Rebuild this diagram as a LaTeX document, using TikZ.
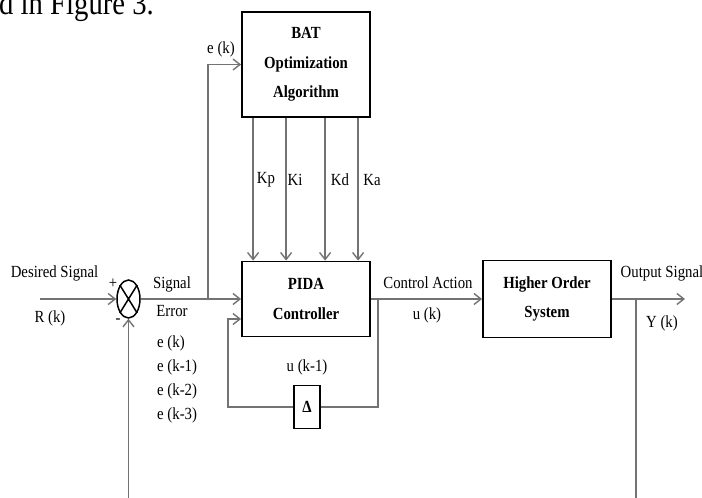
\documentclass[tikz,border=0pt]{standalone}
\usepackage{fontspec}
\setmainfont{Liberation Serif}[FakeStretch=0.87]
\usetikzlibrary{arrows.meta,shapes.geometric,calc}
\definecolor{wirecol}{gray}{0.45}
\tikzset{
  block/.style={draw=black, line width=1.8pt, minimum width=128pt, align=center,
    font=\bfseries\fontsize{17}{29.5}\selectfont},
  wire/.style={draw=wirecol, line width=1.4pt},
  lbl/.style={font=\fontsize{17}{20}\selectfont, inner sep=0pt},
}
\begin{document}
\begin{tikzpicture}[x=1pt, y=-1pt, >={Straight Barb[length=7pt,width=11pt]}]
	\useasboundingbox (0,0) rectangle (702,498);
	% Caption line cut off at the top
	\node[anchor=base west, inner sep=0pt, font=\fontsize{33}{36}\selectfont] (cap) at (-1,14) {d in Figure 3.};
	
	% Blocks
	\node[block, minimum height=105pt] (bat) at (306,64.5) {BAT\\Optimization\\Algorithm};
	\node[block, minimum height=75pt] (pida) at (306,299) {PIDA\\Controller};
	\node[block, minimum height=77pt] (hos) at (547,299) {Higher Order\\System};
	\node[draw=black, line width=1.8pt, minimum width=26pt, minimum height=43pt, inner sep=0pt,
		font=\bfseries\fontsize{17}{20}\selectfont] (dly) at (307,407) {Δ};
	\node[draw=black, line width=1.5pt, ellipse, minimum width=23pt, minimum height=38pt, inner sep=0pt] (sum) at (128.5,299) {};
	\draw[line width=1.5pt] (sum.north west) -- (sum.south east) (sum.north east) -- (sum.south west);
	
	% Key points
	\coordinate (rin) at (40,299);
	\coordinate (fb) at (128.5,498);
	\coordinate (ebr) at (208,299);
	\coordinate (ubr) at (378,299);
	\coordinate (ybr) at (636,299);
	\coordinate (yout) at (685,299);
	\coordinate (ybot) at (636,498);
	\coordinate (uleft) at (228,319);
	\coordinate (pin) at ($(pida.west)+(0,20)$);
	
	% Connectors
	\draw[wire,->] (rin) -- (sum.west);
	\draw[wire,->] (fb) -- (sum.south);
	\draw[wire,->] (sum.east) -- (pida.west);
	\draw[wire,->] (ebr) |- (bat.west);
	\draw[wire,->] (pida.east) -- (hos.west);
	\draw[wire,->] (hos.east) -- (yout);
	\draw[wire] (ybr) -- (ybot);
	\draw[wire] (ubr) |- (dly.east);
	\draw[wire,->] (dly.west) -| (uleft) -- (pin);
	
	% Gains from the optimizer
	\foreach \dx/\k/\lx in {12/Kp/266, 45/Ki/295, 84/Kd/340, 117/Ka/372} {
		\draw[wire,->] ([xshift=\dx pt]bat.south west) -- ([xshift=\dx pt]pida.north west);
		\node[lbl] (lbl\k) at (\lx,180) {\k};
	}
	
	% Labels
	\node[lbl] (eklbl) at (221,49) {e (k)};
	\node[lbl] (plus) at (113,284) {+};
	\node[lbl] (minus) at (118,321) {-};
	\node[lbl] (dsig) at (54.5,273) {Desired Signal};
	\node[lbl] (rk) at (50,318) {R (k)};
	\node[lbl, align=center, font=\fontsize{17}{28}\selectfont] (serr) at (172,297) {Signal\\Error};
	\node[lbl, align=left, anchor=west, font=\fontsize{17}{24}\selectfont] (elist) at (157,379) {e (k)\\e (k-1)\\e (k-2)\\e (k-3)};
	\node[lbl] (ca) at (428,283) {Control Action};
	\node[lbl] (uk) at (427,315) {u (k)};
	\node[lbl] (uk1) at (307,367) {u (k-1)};
	\node[lbl] (osig) at (662,273) {Output Signal};
	\node[lbl] (yk) at (662,323) {Y (k)};
\end{tikzpicture}
\end{document}
